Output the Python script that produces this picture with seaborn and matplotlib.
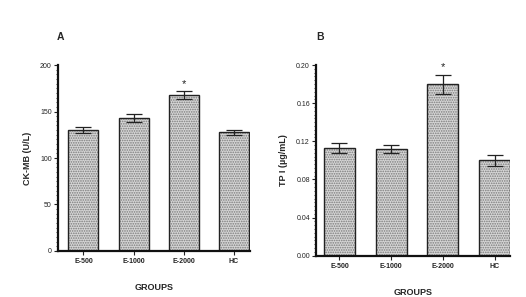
import matplotlib
matplotlib.use('Agg')
import matplotlib.pyplot as plt
import numpy as np
import pandas as pd
import seaborn as sns
from matplotlib.ticker import MultipleLocator

# Data
groups = ['E-500', 'E-1000', 'E-2000', 'HC']
ckmb_mean = [130, 143, 168, 127.5]
ckmb_err = [3.5, 4.5, 4, 3]
tpi_mean = [0.113, 0.112, 0.180, 0.100]
tpi_err = [0.0055, 0.0045, 0.010, 0.006]
sig_group = 'E-2000'

sns.set_style('ticks')
plt.rcParams['font.family'] = ['Liberation Sans', 'DejaVu Sans']
plt.rcParams['hatch.linewidth'] = 0.8

fig = plt.figure(figsize=(5.26, 2.97), dpi=100)
axA = fig.add_axes([0.110, 0.155, 0.365, 0.626])
axB = fig.add_axes([0.601, 0.139, 0.369, 0.642])


def panel(ax, means, errs, ylabel, ylim, major, minor, fmt, xlim):
    df = pd.DataFrame({'group': groups, 'value': means})
    # dotted texture
    sns.barplot(data=df, x='group', y='value', ax=ax, color='#d6d6d6',
                edgecolor='#7a7a7a', linewidth=0, width=0.6, hatch='.......')
    # black outline
    sns.barplot(data=df, x='group', y='value', ax=ax, fill=False,
                edgecolor='#222222', linewidth=1.0, width=0.6)
    ax.errorbar(groups, means, yerr=errs, fmt='none', ecolor='#222222',
                elinewidth=0.9, capsize=5.5, capthick=0.9)
    i = groups.index(sig_group)
    ax.text(i, means[i] + errs[i] + (ylim[1] - ylim[0]) * 0.012, '*',
            ha='center', va='bottom', fontsize=8, color='#222222')
    ax.set_ylim(*ylim)
    ax.set_xlim(*xlim)
    ax.yaxis.set_major_locator(MultipleLocator(major))
    ax.yaxis.set_minor_locator(MultipleLocator(minor))
    ax.yaxis.set_major_formatter(plt.FuncFormatter(lambda v, p: fmt.format(v)))
    ax.tick_params(axis='y', which='major', length=3, width=0.8, labelsize=5,
                   pad=1.5, colors='#222222')
    ax.tick_params(axis='y', which='minor', length=1.5, width=0.6)
    ax.tick_params(axis='x', length=3, width=0.8, labelsize=5, pad=2,
                   colors='#222222')
    for lab in ax.get_xticklabels():
        lab.set_fontweight('bold')
    sns.despine(ax=ax)
    for s in ['left', 'bottom']:
        ax.spines[s].set_linewidth(1.6)
        ax.spines[s].set_color('#111111')
    ax.set_ylabel(ylabel, fontsize=6.5, fontweight='bold', labelpad=6)
    ax.set_xlabel('GROUPS', fontsize=6.5, fontweight='bold', labelpad=13)


panel(axA, ckmb_mean, ckmb_err, 'CK-MB (U/L)', (0, 200), 50, 5, '{:.0f}',
      (-0.51, 3.32))
panel(axB, tpi_mean, tpi_err, 'TP I (µg/mL)', (0, 0.20), 0.04, 0.004, '{:.2f}',
      (-0.45, 3.30))

fig.text(57 / 526, 1 - 37 / 297, 'A', fontsize=7.5, fontweight='bold', va='center')
fig.text(316 / 526, 1 - 37 / 297, 'B', fontsize=7.5, fontweight='bold', va='center')

fig.savefig('out.png', dpi=100, facecolor='white')
